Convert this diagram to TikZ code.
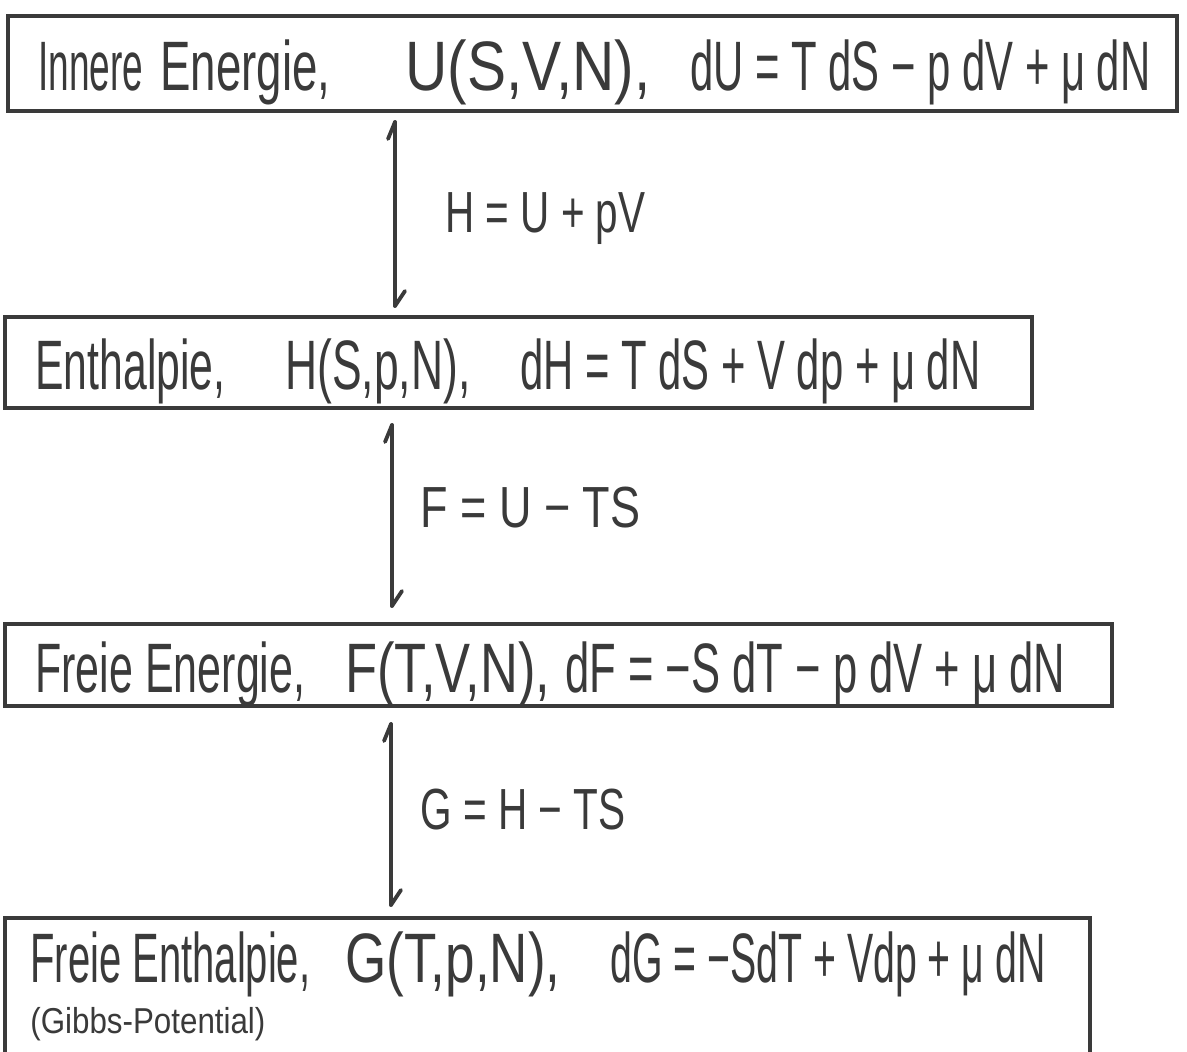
\documentclass[tikz,border=0pt]{standalone}
\usepackage{fontspec}
\setmainfont{Liberation Sans}
\usepackage{graphicx}
\newdimen\pxu \pxu=0.5pt
\newcommand\hwt[2]{\resizebox{#1\pxu}{\height}{#2}}
\definecolor{ink}{HTML}{3A3A3A}
\begin{document}
\begin{tikzpicture}[x=0.5pt, y=-0.5pt,
  potbox/.style={draw=ink, line width=1.7pt, inner sep=0pt, outer sep=0pt, anchor=north west},
  txt/.style={anchor=base west, inner sep=0pt, text=ink, font=\fontsize{35}{40}\selectfont},
  lab/.style={txt, font=\fontsize{29}{34}\selectfont},
  small/.style={txt, font=\fontsize{18}{22}\selectfont},
  conn/.style={draw=ink, line width=1.9pt, line cap=round, line join=round}]
\useasboundingbox (0,0) rectangle (1187,1052);
\clip (0,0) rectangle (1187,1052);
\fill[white] (0,0) rectangle (1187,1052);

% boxes
\node[potbox, minimum width=584.5pt, minimum height=47.5pt] (b1) at (8,16) {};
\node[potbox, minimum width=513.5pt, minimum height=45.5pt] (b2) at (5,317) {};
\node[potbox, minimum width=553.5pt, minimum height=41pt] (b3) at (5,624) {};
\node[potbox, minimum width=542.5pt, minimum height=80pt] (b4) at (5,918) {};

% box 1 text
\node[txt] (t1a) at (38,91) {\hwt{105}{Innere}};
\node[txt] (t1b) at (160,91) {\hwt{170}{Energie,}};
\node[txt] (t1c) at (405,91) {\hwt{245}{U(S,V,N),}};
\node[txt] (t1d) at (690,91) {\hwt{460}{dU = T dS − p dV + μ dN}};

% box 2 text
\node[txt] (t2a) at (35,390) {\hwt{190}{Enthalpie,}};
\node[txt] (t2b) at (285,390) {\hwt{185}{H(S,p,N),}};
\node[txt] (t2c) at (520,390) {\hwt{460}{dH = T dS + V dp + μ dN}};

% box 3 text
\node[txt] (t3a) at (35,692) {\hwt{270}{Freie Energie,}};
\node[txt] (t3b) at (345,692) {\hwt{205}{F(T,V,N),}};
\node[txt] (t3c) at (565,692) {\hwt{500}{dF = −S dT − p dV + μ dN}};

% box 4 text
\node[txt] (t4a) at (30,982) {\hwt{280}{Freie Enthalpie,}};
\node[txt] (t4b) at (345,982) {\hwt{215}{G(T,p,N),}};
\node[txt] (t4c) at (610,982) {\hwt{435}{dG = −SdT + Vdp + μ dN}};
\node[small] (t4d) at (30,1033) {\hwt{235}{(Gibbs-Potential)}};

% arrow end points (just off the boxes)
\coordinate (x1) at (395,0);
\coordinate (x2) at (392,0);
\coordinate (x3) at (391,0);
\path (b1.south -| x1) ++(0,11) coordinate (a1t);
\path (b2.north -| x1) ++(0,-11) coordinate (a1b);
\path (b2.south -| x2) ++(0,17) coordinate (a2t);
\path (b3.north -| x2) ++(0,-18) coordinate (a2b);
\path (b3.south -| x3) ++(0,18) coordinate (a3t);
\path (b4.north -| x3) ++(0,-13) coordinate (a3b);

% double harpoon connectors
\foreach \t/\b in {a1t/a1b, a2t/a2b, a3t/a3b}{
  \draw[conn] (\t) -- (\b);
  \draw[conn] (\t) -- ++(-7,17);
  \draw[conn] (\b) -- ++(10,-15);
}

% labels
\node[lab] (l1) at (445,233) {\hwt{200}{H = U + pV}};
\node[lab] (l2) at (420,527) {\hwt{220}{F = U − TS}};
\node[lab] (l3) at (420,829) {\hwt{205}{G = H − TS}};
\end{tikzpicture}
\end{document}
